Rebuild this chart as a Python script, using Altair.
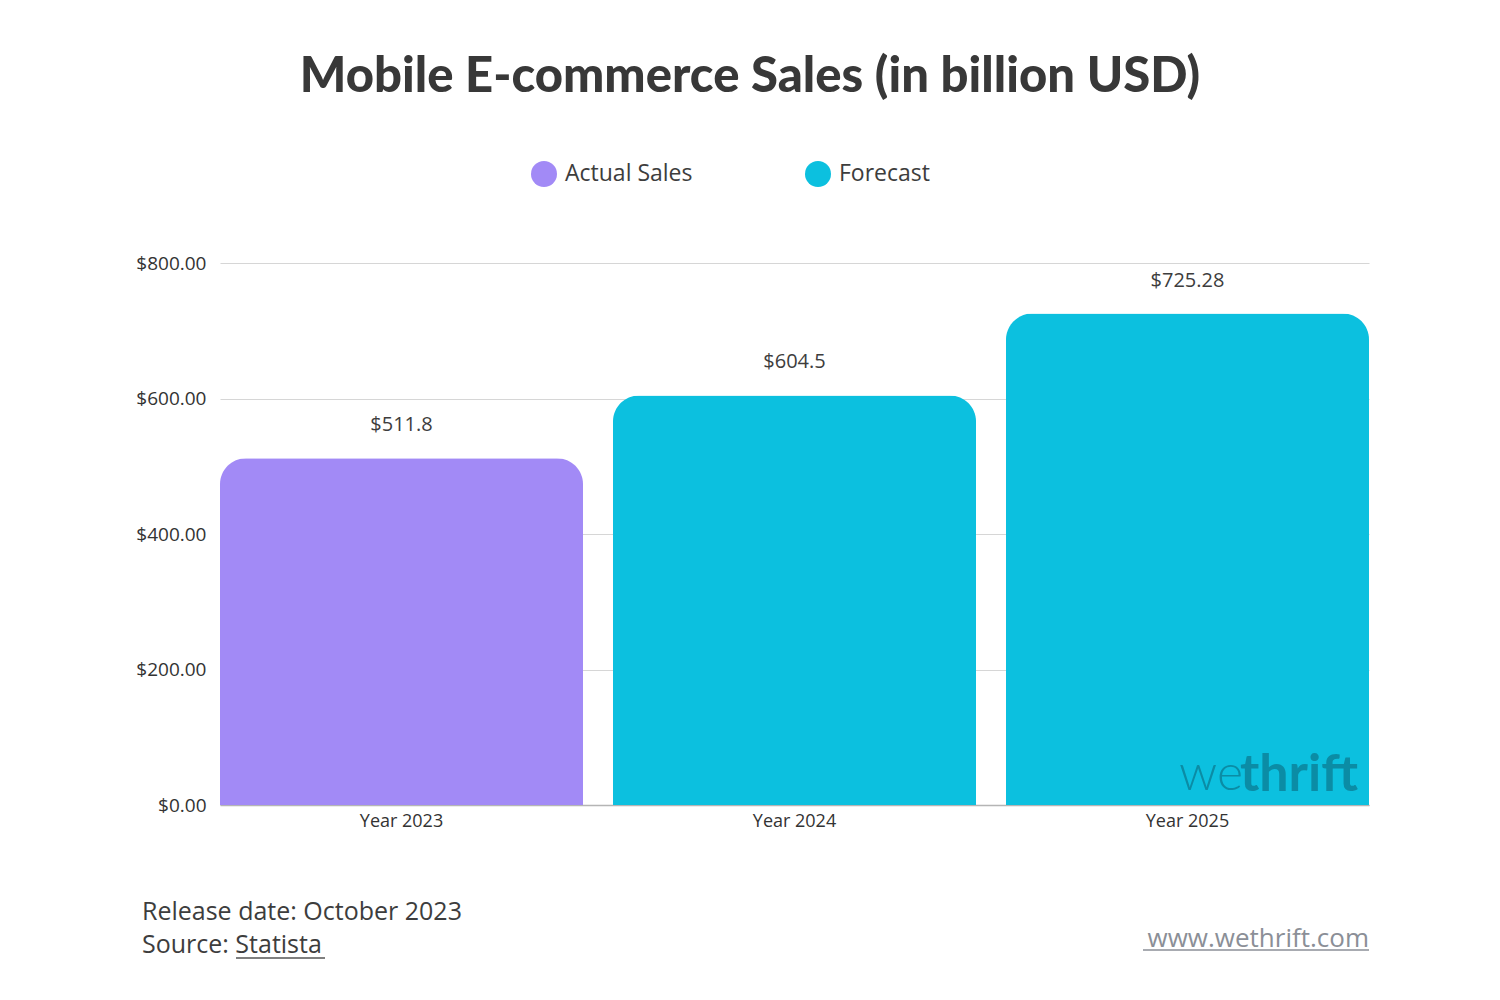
import altair as alt
import pandas as pd

# Values
years = ['Year 2023', 'Year 2024', 'Year 2025']
sales = [511.8, 604.5, 725.28]
value_labels = ['$511.8', '$604.5', '$725.28']
series = ['Actual Sales', 'Forecast', 'Forecast']

df = pd.DataFrame({'year': years, 'sales': sales, 'label': value_labels, 'series': series})

FONT = 'Open Sans'
TEXT = '#3d3d3d'

color_scale = alt.Scale(domain=['Actual Sales', 'Forecast'], range=['#a28af6', '#0cc0df'])

base = alt.Chart(df).encode(
    x=alt.X('year:N', sort=years, title=None,
            scale=alt.Scale(paddingInner=0.0763, paddingOuter=0),
            axis=alt.Axis(labelAngle=0, ticks=False, domainColor='#b5b5b5', domainWidth=1.5,
                          labelFontSize=18, labelColor='#333333', labelPadding=7, labelFont=FONT)),
    y=alt.Y('sales:Q', title=None,
            scale=alt.Scale(domain=[0, 800], nice=False),
            axis=alt.Axis(values=[0, 200, 400, 600, 800], format='$,.2f', domain=False, ticks=False,
                          gridColor='#d6d6d6', gridWidth=1.2, labelFontSize=19,
                          labelColor='#333333', labelPadding=14, labelFont=FONT))
)

bars = base.mark_bar(cornerRadiusTopLeft=26, cornerRadiusTopRight=26).encode(
    color=alt.Color('series:N', scale=color_scale,
                    legend=alt.Legend(orient='none', legendX=311, legendY=-102, direction='horizontal',
                                      title=None, symbolType='circle', symbolSize=676,
                                      symbolStrokeWidth=0, symbolOpacity=1, labelFontSize=23,
                                      labelColor=TEXT, labelFont=FONT, labelOffset=8,
                                      columnPadding=112))
)

labels = base.mark_text(dy=-33, fontSize=20, color=TEXT, font=FONT).encode(text='label:N')


def note(text, x, y, size, color=TEXT, weight='normal', align='left', font=FONT):
    return alt.Chart(df).transform_filter('datum.year == "Year 2023"').mark_text(
        text=text, fontSize=size, font=font, color=color, fontWeight=weight, align=align,
        baseline='middle'
    ).encode(x=alt.value(x), y=alt.value(y))


title = note('Mobile E-commerce Sales (in billion USD)', 530, -186, 49, color='#383838',
             weight=900, align='center', font='Lato')
mark_we = note('we', 1023, 512, 50, color='#0b8ca5', weight=300, align='right', font='Lato')
mark_thrift = note('thrift', 1138, 512, 52, color='#0b8ca5', weight='bold', align='right', font='Lato')
release = note('Release date: October 2023', -78, 649, 25)
source = note('Source: Statista', -78, 682, 25)
site = note('www.wethrift.com', 1149, 676, 26, color='#8b8f97', align='right')

underline_src = alt.Chart(df).transform_filter('datum.year == "Year 2023"').mark_rule(
    color='#555555', strokeWidth=1.3
).encode(x=alt.value(16), x2=alt.value(105), y=alt.value(695))
underline_site = alt.Chart(df).transform_filter('datum.year == "Year 2023"').mark_rule(
    color='#8b8f97', strokeWidth=1.3
).encode(x=alt.value(923), x2=alt.value(1149), y=alt.value(687))

chart = alt.layer(
    bars, labels, mark_we, mark_thrift, title, release, source, site, underline_src, underline_site
).properties(
    width=1149,
    height=542,
    background='white',
    autosize=alt.AutoSizeParams(type='none'),
    padding={'left': 212, 'top': 255, 'right': 123, 'bottom': 180}
).configure_view(stroke=None)

chart.save('out.html', embed_options={'renderer': 'svg', 'actions': False})
